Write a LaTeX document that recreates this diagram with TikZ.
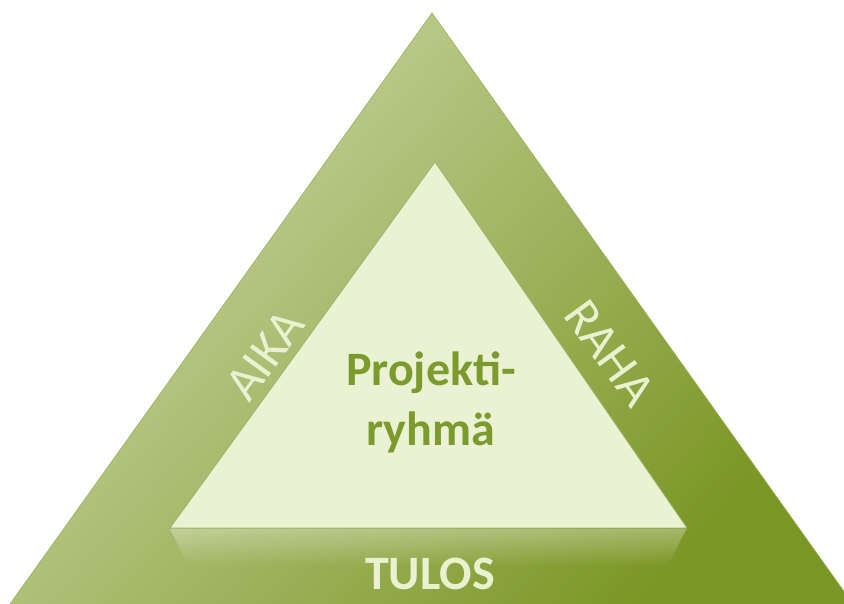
\documentclass[tikz,border=0pt]{standalone}
\usepackage{fontspec}
\setmainfont{Carlito}
\usetikzlibrary{fadings}
\definecolor{outerlight}{HTML}{CAD6A4}
\definecolor{outerdark}{HTML}{7A9624}
\definecolor{innerfill}{HTML}{EBF2D3}
\definecolor{inneredge}{HTML}{9DB46A}
\definecolor{textgreen}{HTML}{7C9B2F}
\definecolor{bandtext}{HTML}{EAF1D0}
\tikzset{
  outertri/.style={top color=outerlight, bottom color=outerdark, shading angle=48},
  innertri/.style={fill=innerfill, draw=inneredge, line width=0.8pt, line join=miter},
  bandlabel/.style={text=bandtext, font=\fontsize{50}{54}\selectfont, inner sep=0pt},
  centrelabel/.style={text=textgreen, font=\bfseries\fontsize{48}{60}\selectfont, align=center, inner sep=0pt}
}
\begin{document}
\begin{tikzpicture}[x=1pt,y=-1pt]
\useasboundingbox (0,0) rectangle (844,604);
\clip (0,0) rectangle (844,604);
% outer triangle
\coordinate (oa) at (432,13);
\coordinate (ol) at (10,604);
\coordinate (or) at (853,604);
\shade[outertri] (oa) -- (or) -- (ol) -- cycle;
\draw[draw=outerdark!60!outerlight, line width=0.6pt] (ol) -- (oa) -- (or);
% inner triangle corners
\coordinate (ia) at (435,162);
\coordinate (il) at (170,528);
\coordinate (ir) at (687,528);
% reflection below inner base
\fill[white, opacity=0.3, path fading=south] (170,529) -- (687,529) -- (668,566) -- (189,566) -- cycle;
% inner triangle
\filldraw[innertri] (ia) -- (ir) -- (il) -- cycle;
% labels
\node[centrelabel] (team) at (431,402) {Projekti-\\ryhmä};
\node[bandlabel, font=\bfseries\fontsize{48}{50}\selectfont] (tulos) at (430,574) {TULOS};
\node[bandlabel, rotate=54] (aika) at (265,355) {AIKA};
\node[bandlabel, rotate=-54] (raha) at (610,353) {RAHA};
\end{tikzpicture}
\end{document}
